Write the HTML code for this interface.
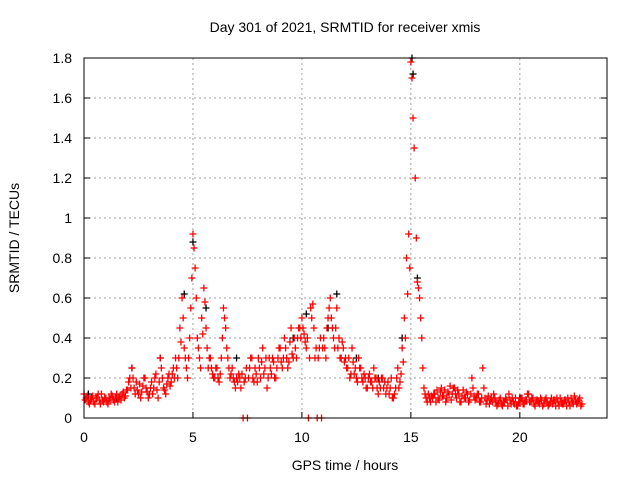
<!DOCTYPE html>
<html><head><meta charset="utf-8"><style>
body{margin:0;background:#fff;}
svg{display:block;font-family:"Liberation Sans",sans-serif;font-size:14px;}
</style></head><body>
<svg id="chart" width="640" height="480">
<text x="345" y="32" text-anchor="middle">Day 301 of 2021, SRMTID for receiver xmis</text>
<text x="345" y="470" text-anchor="middle">GPS time / hours</text>
<text x="19" y="238" text-anchor="middle" transform="rotate(-90 19 238)">SRMTID / TECUs</text>
<g id="grid"></g><g id="ticks"></g><g id="pts"></g>
<rect x="84" y="58" width="523" height="360" fill="none" stroke="#000" stroke-width="1"/>
</svg>
<script>
const yTicks=[0,0.2,0.4,0.6,0.8,1,1.2,1.4,1.6,1.8];
const yTickLabels=["0","0.2","0.4","0.6","0.8","1","1.2","1.4","1.6","1.8"];
const xTicks=[0,5,10,15,20];
const xTickLabels=["0","5","10","15","20"];
const startTime=0, timeStep=0.1;
const redValues=[
0.12,0.1,0.08,0.09,0.11,0.07,0.1,0.09,0.12,0.08,
0.1,0.07,0.09,0.11,0.08,0.12,0.1,0.09,0.13,0.11,
0.14,0.2,0.25,0.15,0.18,0.12,0.1,0.16,0.2,0.13,
0.12,0.18,0.15,0.22,0.1,0.3,0.2,0.14,0.17,0.22,
0.18,0.25,0.3,0.2,0.45,0.6,0.35,0.25,0.3,0.55,
0.92,0.75,0.4,0.3,0.5,0.65,0.45,0.25,0.3,0.22,
0.2,0.25,0.18,0.3,0.55,0.45,0.3,0.2,0.25,0.18,
0.2,0.22,0.15,0.0,0.2,0.0,0.25,0.3,0.18,0.22,
0.3,0.2,0.35,0.25,0.15,0.3,0.22,0.28,0.2,0.3,
0.35,0.25,0.4,0.3,0.28,0.45,0.3,0.35,0.4,0.45,
0.5,0.42,0.35,0.0,0.55,0.57,0.3,0.0,0.35,0.0,
0.4,0.3,0.5,0.6,0.45,0.35,0.55,0.4,0.3,0.35,
0.3,0.25,0.2,0.35,0.22,0.2,0.3,0.25,0.18,0.2,
0.15,0.22,0.18,0.25,0.2,0.12,0.15,0.2,0.18,0.15,
0.12,0.2,0.1,0.15,0.25,0.18,0.35,0.5,0.8,0.92,
1.78,1.5,1.2,0.68,0.6,0.4,0.15,0.1,0.12,0.08,
0.1,0.12,0.14,0.09,0.15,0.11,0.08,0.13,0.16,0.12,
0.15,0.1,0.12,0.08,0.14,0.1,0.12,0.09,0.2,0.11,
0.1,0.12,0.08,0.25,0.1,0.09,0.07,0.1,0.12,0.08,
0.07,0.1,0.06,0.08,0.09,0.12,0.07,0.08,0.1,0.06,
0.08,0.1,0.07,0.09,0.12,0.08,0.1,0.06,0.09,0.07,
0.09,0.07,0.1,0.06,0.08,0.07,0.09,0.1,0.06,0.08,
0.07,0.09,0.1,0.06,0.08,0.11,0.07,0.09,0.06];
const redValuesB=[
0.09,0.11,0.07,0.1,0.08,0.1,0.12,0.07,0.09,0.1,
0.08,0.1,0.12,0.09,0.1,0.08,0.11,0.12,0.1,0.14,
0.18,0.15,0.2,0.12,0.14,0.17,0.13,0.2,0.15,0.1,
0.15,0.12,0.2,0.14,0.18,0.25,0.15,0.12,0.2,0.16,
0.22,0.2,0.25,0.3,0.38,0.5,0.3,0.2,0.4,0.7,
0.85,0.6,0.35,0.25,0.42,0.58,0.35,0.3,0.25,0.2,
0.25,0.2,0.22,0.4,0.5,0.35,0.25,0.22,0.2,0.15,
0.18,0.2,0.22,0.18,0.25,0.2,0.3,0.2,0.25,0.18,
0.25,0.28,0.22,0.3,0.2,0.25,0.3,0.2,0.25,0.35,
0.28,0.3,0.35,0.25,0.38,0.32,0.4,0.3,0.45,0.4,
0.45,0.38,0.4,0.3,0.5,0.45,0.35,0.3,0.4,0.35,
0.35,0.45,0.55,0.5,0.4,0.45,0.35,0.3,0.38,0.28,
0.25,0.3,0.22,0.28,0.25,0.18,0.25,0.2,0.22,0.15,
0.2,0.18,0.15,0.2,0.15,0.18,0.2,0.15,0.12,0.18,
0.15,0.1,0.12,0.2,0.15,0.22,0.28,0.4,0.62,0.75,
1.7,1.35,0.9,0.65,0.5,0.25,0.12,0.08,0.1,0.11,
0.12,0.08,0.1,0.13,0.11,0.14,0.1,0.12,0.09,0.15,
0.12,0.14,0.08,0.11,0.1,0.13,0.08,0.12,0.15,0.09,
0.12,0.08,0.1,0.15,0.07,0.11,0.09,0.08,0.1,0.06,
0.09,0.07,0.08,0.1,0.06,0.09,0.1,0.07,0.06,0.08,
0.1,0.07,0.09,0.12,0.08,0.1,0.07,0.09,0.08,0.1,
0.06,0.09,0.08,0.07,0.1,0.09,0.06,0.08,0.1,0.07,
0.09,0.06,0.08,0.1,0.07,0.09,0.08,0.1,0.07];
const blackValues=[0.12,0.1,0.25,0.3,0.62,0.88,0.55,0.3,0.4,0.52,0.45,0.62,0.3,0.2,0.4,1.8,1.72,0.7,0.15,0.1];
const blackTimes=[0.2,1.5,2.2,3.5,4.6,5.0,5.6,7.0,9.6,10.2,11.2,11.6,12.5,13.5,14.6,15.05,15.1,15.3,17,20];
const X0=84,X1=607,Y0=418,Y1=58;
const xs=t=>X0+t*(X1-X0)/24;
const ys=v=>Y0-v*(Y0-Y1)/1.8;
const NS="http://www.w3.org/2000/svg";
function mk(tag,attrs,parent){const e=document.createElementNS(NS,tag);for(const k in attrs)e.setAttribute(k,attrs[k]);parent.appendChild(e);return e;}
const grid=document.getElementById('grid'),ticks=document.getElementById('ticks'),pts=document.getElementById('pts');
yTicks.forEach((v,i)=>{const y=ys(v);
 if(i>0&&i<yTicks.length-1){const g=mk('line',{x1:X0,x2:X1,y1:y,y2:y,stroke:'#a0a0a0','stroke-dasharray':'2,3'},grid);
 
 }
 const l=mk('line',{x1:X0,x2:X0+6,y1:y,y2:y,stroke:'#000'},ticks);
 
 
 const r=mk('line',{x1:X1-6,x2:X1,y1:y,y2:y,stroke:'#000'},ticks);
 
 
 const t=mk('text',{x:72,y:y+5,'text-anchor':'end'},ticks);t.textContent=yTickLabels[i];
 
 });
xTicks.forEach((v,i)=>{const x=xs(v);
 if(i>0){const g=mk('line',{x1:x,x2:x,y1:Y1,y2:Y0,stroke:'#a0a0a0','stroke-dasharray':'2,3'},grid);
 
 }
 const l=mk('line',{x1:x,x2:x,y1:Y0,y2:Y0-6,stroke:'#000'},ticks);
 
 
 const t=mk('text',{x:x,y:442,'text-anchor':'middle'},ticks);t.textContent=xTickLabels[i];
 
 });
function plus(t,v,color,name){const x=xs(t),y=ys(v);
 const p=mk('path',{d:`M${x-3.5},${y}H${x+3.5}M${x},${y-3.5}V${y+3.5}`,stroke:color,'stroke-width':1.3,fill:'none'},pts);
 
 }
blackTimes.forEach((t,i)=>plus(t,blackValues[i],'#000','black-point'));
redValues.forEach((v,i)=>plus(startTime+i*timeStep,v,'#f00','red-point'));
redValuesB.forEach((v,i)=>plus(startTime+i*timeStep+0.05,v,'#f00','red-point'));
</script>
</body></html>
